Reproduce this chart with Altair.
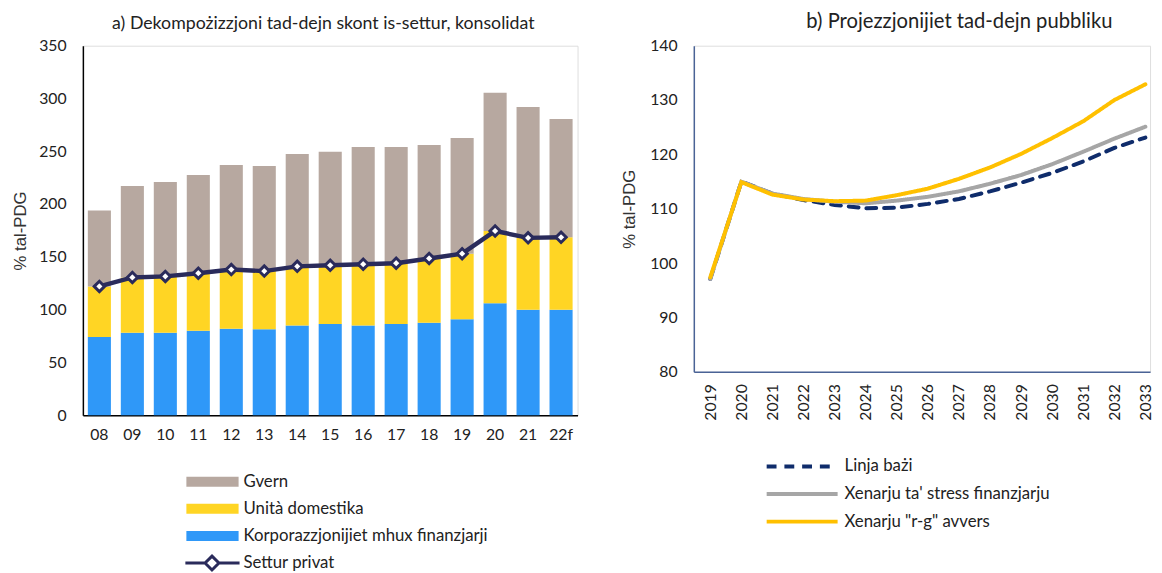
import altair as alt
import pandas as pd

FONT = "Lato"
TFONT = "Liberation Sans"
NAVY = "#2a2b5b"

# ---- panel a data ----
years_a = ["08", "09", "10", "11", "12", "13", "14", "15", "16", "17", "18", "19", "20", "21", "22f"]
corp = [74, 78, 78, 80, 82, 81.5, 85, 86.5, 85, 86.5, 87.5, 91, 106, 100, 100]
households = [48, 52.5, 53.5, 54.5, 56, 55, 56, 55.5, 58, 57.5, 61, 62, 68.5, 68, 68.5]
govt = [72, 86.5, 89.5, 93, 99, 99.5, 106.5, 107.5, 111, 110, 107.5, 109.5, 131, 124, 112]
private = [122, 130.5, 131.5, 134.5, 138, 136.5, 141, 142, 143, 144, 148.5, 153, 174.5, 168, 168.5]

sectors = ["Gvern", "Unità domestika", "Korporazzjonijiet mhux finanzjarji"]
sector_colors = ["#b7a8a0", "#ffd524", "#2f98f8"]

# ---- panel b data ----
years_b = list(range(2019, 2034))
baseline = [97.1, 115.0, 112.8, 111.6, 110.7, 110.1, 110.2, 110.9, 111.8, 113.2, 114.8, 116.6, 118.7, 121.2, 123.1]
stress = [97.1, 115.0, 112.8, 111.8, 111.3, 111.0, 111.5, 112.2, 113.2, 114.6, 116.2, 118.2, 120.5, 122.9, 125.1]
rg = [97.4, 114.9, 112.6, 111.7, 111.4, 111.5, 112.5, 113.7, 115.5, 117.6, 120.1, 123.0, 126.1, 130.0, 132.9]
scen = ["Linja bażi", "Xenarju ta' stress finanzjarju", "Xenarju \"r-g\" avvers"]
scen_colors = ["#0f2c6b", "#a6a6a6", "#ffc000"]

# ---- tables ----
rows = []
for i, y in enumerate(years_a):
    rows.append(dict(yr=y, sector=sectors[2], val=corp[i], ord=1))
    rows.append(dict(yr=y, sector=sectors[1], val=households[i], ord=2))
    rows.append(dict(yr=y, sector=sectors[0], val=govt[i], ord=3))
bars_df = pd.DataFrame(rows)
line_df = pd.DataFrame(dict(yr=years_a, val=private, series=["Settur privat"] * len(years_a)))

rows_b = []
for s, vals in zip(scen, [baseline, stress, rg]):
    for yv, v in zip(years_b, vals):
        rows_b.append(dict(year=yv, scenario=s, val=v))
df_b = pd.DataFrame(rows_b)

# ---- panel a ----
x_a = alt.X("yr:N", sort=years_a,
            scale=alt.Scale(paddingInner=0.3, paddingOuter=0.15),
            axis=alt.Axis(title=None, labelAngle=0, ticks=False, domainColor="#000000",
                          domainWidth=1.5, labelFontSize=16, labelFont=FONT,
                          labelColor="#222222", labelPadding=12, grid=False))
y_a = alt.Y("val:Q", stack="zero", scale=alt.Scale(domain=[0, 350], nice=False),
            axis=alt.Axis(values=list(range(0, 351, 50)), title="% tal-PDG", ticks=False,
                          domainColor="#000000", domainWidth=1.5, grid=False,
                          labelFontSize=16, labelFont=FONT, labelColor="#222222",
                          labelPadding=17, titleFont=TFONT, titleFontSize=17,
                          titleFontWeight="normal", titleColor="#333333", titlePadding=9))

bars = alt.Chart(bars_df).mark_bar().encode(
    x=x_a,
    y=y_a,
    fill=alt.Fill("sector:N",
                  scale=alt.Scale(domain=sectors, range=sector_colors),
                  legend=alt.Legend(title=None, orient="none", legendX=131, legendY=429,
                                    symbolType="M-2.98,-0.38H1.02V0.38H-2.98Z", symbolSize=702,
                                    symbolStrokeWidth=0, labelFont=FONT, labelFontSize=17,
                                    labelColor="#222222", labelOffset=5, rowPadding=5.5,
                                    labelLimit=400, padding=0)),
    order=alt.Order("ord:Q"),
)

line = alt.Chart(line_df).mark_line(
    strokeWidth=4.5,
    point=alt.OverlayMarkDef(shape="diamond", filled=True, fill="white", stroke=NAVY,
                             strokeWidth=3, size=110, opacity=1),
).encode(
    x=alt.X("yr:N", sort=years_a),
    y=alt.Y("val:Q"),
    stroke=alt.Stroke("series:N",
                      scale=alt.Scale(domain=["Settur privat"], range=[NAVY]),
                      legend=alt.Legend(title=None, orient="none", legendX=131, legendY=510,
                                        symbolType="M-3.17,0H-1.66M-0.6,0H0.98M-1.13,-0.53L-0.6,0L-1.13,0.53L-1.66,0Z",
                                        symbolSize=702, symbolStrokeWidth=3,
                                        symbolFillColor="white", labelFont=FONT,
                                        labelFontSize=17, labelColor="#222222",
                                        labelOffset=2, labelLimit=400, padding=0)),
)

panel_a = alt.layer(bars, line).properties(
    width=502, height=375,
    title=alt.TitleParams("a) Dekompożizzjoni tad-dejn skont is-settur, konsolidat",
                          font=FONT, fontSize=18, fontWeight="normal", color="#222222",
                          anchor="middle", dx=-7, offset=5),
)

# ---- panel b ----
legend_b = alt.Legend(title=None, orient="none", legendX=109, legendY=407,
                      symbolType="M-3.06,0H0.94", symbolSize=1296, symbolStrokeWidth=4,
                      labelFont=FONT, labelFontSize=17, labelColor="#222222",
                      labelOffset=4, rowPadding=0, labelLimit=400, padding=0)

base_b = alt.Chart(df_b).mark_line(strokeWidth=4, strokeCap="round").encode(
    x=alt.X("year:Q", scale=alt.Scale(domain=[2018.47, 2033.15], nice=False, zero=False),
            axis=alt.Axis(values=years_b, format="d", labelAngle=-90, title=None, ticks=False,
                          grid=False, domainColor="#4a6396", domainWidth=1.5,
                          labelFont=FONT, labelFontSize=16, labelColor="#222222",
                          labelPadding=12, labelAlign="right", labelBaseline="middle")),
    y=alt.Y("val:Q", scale=alt.Scale(domain=[80, 140], nice=False, zero=False),
            axis=alt.Axis(values=list(range(80, 141, 10)), title="% tal-PDG", ticks=False,
                          grid=False, domainColor="#4a6396", domainWidth=1.5,
                          labelFont=FONT, labelFontSize=16, labelColor="#222222",
                          labelPadding=17, titleFont=TFONT, titleFontSize=17,
                          titleFontWeight="normal", titleColor="#333333", titlePadding=11)),
    color=alt.Color("scenario:N", scale=alt.Scale(domain=scen, range=scen_colors), legend=legend_b),
    strokeDash=alt.StrokeDash("scenario:N",
                              scale=alt.Scale(domain=scen, range=[[10, 8], [1, 0], [1, 0]]),
                              legend=legend_b),
)

layers_b = [base_b.transform_filter(alt.datum.scenario == s) for s in scen]
panel_b = alt.layer(*layers_b).properties(
    width=463, height=331,
    title=alt.TitleParams("b) Projezzjonijiet tad-dejn pubbliku",
                          font=FONT, fontSize=20.5, fontWeight="normal", color="#222222",
                          anchor="middle", dx=38, offset=5),
)

chart = alt.hconcat(panel_a, panel_b, spacing=42).resolve_scale(
    color="independent", stroke="independent", fill="independent", strokeDash="independent"
).properties(
    padding={"left": 3, "top": 0, "right": 0, "bottom": 0}
).configure_view(stroke=None).configure(background="white")

chart.save("out.html", embed_options={"renderer": "svg", "actions": False})
